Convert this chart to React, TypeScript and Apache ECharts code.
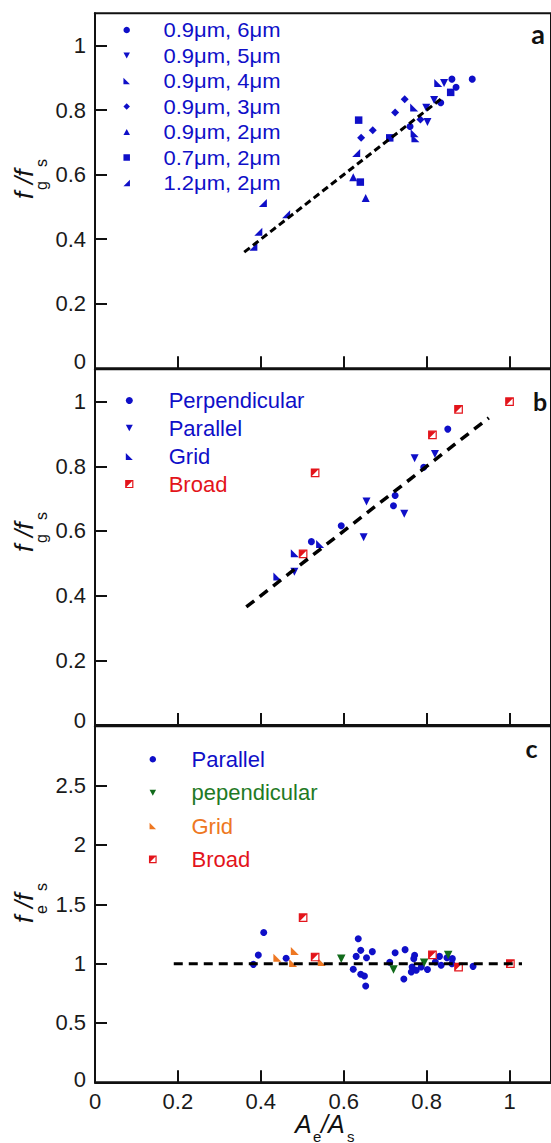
import React, { useEffect, useRef } from 'react';
import * as echarts from 'echarts';

// ---------- DATA ----------
// Panel a: f_g/f_s vs A_e/A_s
const a_09_6: number[][] = [[0.861, 0.896], [0.910, 0.896], [0.871, 0.871], [0.834, 0.823], [0.760, 0.749]];
const a_09_5: number[][] = [[0.842, 0.884], [0.818, 0.831], [0.799, 0.807], [0.802, 0.763]];
const a_09_4: number[][] = [[0.828, 0.884], [0.770, 0.808], [0.771, 0.728], [0.773, 0.713]];
const a_09_3: number[][] = [[0.747, 0.834], [0.724, 0.793], [0.670, 0.738], [0.642, 0.714], [0.785, 0.771]];
const a_09_2: number[][] = [[0.653, 0.528], [0.623, 0.592]];
const a_07_2: number[][] = [[0.636, 0.769], [0.711, 0.714], [0.640, 0.577], [0.858, 0.855]];
const a_12_2: number[][] = [[0.405, 0.512], [0.394, 0.423], [0.461, 0.477], [0.382, 0.377], [0.630, 0.667]];
const fitA: number[][] = [[0.36, 0.36], [0.84, 0.84]];

// Panel b
const b_perp: number[][] = [[0.851, 0.915], [0.793, 0.797], [0.724, 0.710], [0.720, 0.678], [0.594, 0.616], [0.522, 0.567]];
const b_par: number[][] = [[0.771, 0.825], [0.820, 0.838], [0.655, 0.691], [0.746, 0.653], [0.648, 0.581], [0.481, 0.474]];
const b_grid: number[][] = [[0.543, 0.560], [0.482, 0.531], [0.440, 0.459]];
const b_broad: number[][] = [[0.877, 0.976], [1.0, 1.0], [0.814, 0.897], [0.531, 0.780], [0.502, 0.529]];
const fitB: number[][] = [[0.365, 0.365], [0.95, 0.95]];

// Panel c: f_e/f_s vs A_e/A_s
const c_par: number[][] = [
  [0.407, 1.263], [0.394, 1.072], [0.382, 0.994], [0.461, 1.045], [0.635, 1.210], [0.641, 1.112],
  [0.669, 1.101], [0.630, 1.061], [0.655, 1.050], [0.623, 0.952], [0.641, 0.910], [0.650, 0.896],
  [0.653, 0.812], [0.724, 1.092], [0.748, 1.118], [0.711, 1.011], [0.745, 0.871], [0.771, 1.070],
  [0.769, 1.042], [0.765, 0.971], [0.763, 0.929], [0.775, 0.944], [0.787, 0.971], [0.802, 0.950],
  [0.821, 1.014], [0.831, 1.061], [0.835, 0.986], [0.849, 1.050], [0.862, 1.042], [0.861, 1.000],
  [0.912, 0.977]
];
const c_perp: number[][] = [[0.594, 1.042], [0.720, 0.950], [0.794, 1.008], [0.852, 1.072]];
const c_grid: number[][] = [[0.440, 1.050], [0.482, 1.106], [0.478, 1.005], [0.547, 1.013]];
const c_broad: number[][] = [[0.502, 1.387], [0.531, 1.056], [0.814, 1.073], [0.877, 0.971], [1.002, 1.0]];
const fitC: number[][] = [[0.19, 1], [1.03, 1]];

const legendA = ['0.9\u03bcm, 6\u03bcm', '0.9\u03bcm, 5\u03bcm', '0.9\u03bcm, 4\u03bcm', '0.9\u03bcm, 3\u03bcm', '0.9\u03bcm, 2\u03bcm', '0.7\u03bcm, 2\u03bcm', '1.2\u03bcm, 2\u03bcm'];
const legendB = ['Perpendicular', 'Parallel', 'Grid', 'Broad'];
const legendC = ['Parallel', 'pependicular', 'Grid', 'Broad'];

// ---------- STYLE ----------
const FONT = '"Liberation Sans", Arial, sans-serif';
const BLUE = '#0f0fc8';
const RED = '#e3141b';
const GREEN = '#116b1b';
const GREEN_T = '#1f7a25';
const ORANGE = '#ee7722';
const AXIS = '#111';

const SYM_DOWN = 'path://M0,0L10,0L5,9Z';
const SYM_UP = 'path://M5,0L10,9L0,9Z';
const SYM_LL = 'path://M0,0L0,10L10,10Z';
const SYM_LR = 'path://M10,0L10,10L0,10Z';
const SYM_BTRI = 'path://M0,0L10,0L0,10Z';

const PANELS = [
  { top: 13.3, height: 355, max: 1.1, interval: 0.2, zeroPad: 14 },
  { top: 369.3, height: 355.7, max: 1.1, interval: 0.2, zeroPad: 9 },
  { top: 726.3, height: 356, max: 3, interval: 0.5, zeroPad: 6 },
];

function sc(data: number[][], idx: number, symbol: string, color: string, size: number, extra: any = {}) {
  return {
    type: 'scatter', xAxisIndex: idx, yAxisIndex: idx, data, symbol, symbolSize: size,
    itemStyle: { color, opacity: 1 }, z: 3, silent: true, ...extra,
  };
}
function broad(data: number[][], idx: number, size: number) {
  return [
    sc(data, idx, 'rect', '#fff', size, { itemStyle: { color: '#fff', borderColor: RED, borderWidth: 1.2, opacity: 1 } }),
    sc(data, idx, SYM_BTRI, RED, size),
  ];
}
function fit(data: number[][], idx: number, dash: number[], width: number) {
  return {
    type: 'line', xAxisIndex: idx, yAxisIndex: idx, data, symbol: 'none', silent: true, z: 4,
    lineStyle: { color: '#000', width, type: dash },
  };
}

function mk(kind: string, x: number, y: number, s: number, color: string): any[] {
  const h = s / 2;
  const fill = { fill: color };
  switch (kind) {
    case 'circle': return [{ type: 'circle', shape: { cx: x, cy: y, r: h }, style: fill }];
    case 'down': return [{ type: 'polygon', shape: { points: [[x - h, y - h * 0.9], [x + h, y - h * 0.9], [x, y + h * 0.9]] }, style: fill }];
    case 'up': return [{ type: 'polygon', shape: { points: [[x, y - h * 0.9], [x + h, y + h * 0.9], [x - h, y + h * 0.9]] }, style: fill }];
    case 'll': return [{ type: 'polygon', shape: { points: [[x - h, y - h], [x - h, y + h], [x + h, y + h]] }, style: fill }];
    case 'lr': return [{ type: 'polygon', shape: { points: [[x + h, y - h], [x + h, y + h], [x - h, y + h]] }, style: fill }];
    case 'diamond': return [{ type: 'polygon', shape: { points: [[x, y - h], [x + h, y], [x, y + h], [x - h, y]] }, style: fill }];
    case 'square': return [{ type: 'rect', shape: { x: x - h, y: y - h, width: s, height: s }, style: fill }];
    case 'broad': return [
      { type: 'rect', shape: { x: x - h, y: y - h, width: s, height: s }, style: { fill: '#fff', stroke: RED, lineWidth: 1.2 } },
      { type: 'polygon', shape: { points: [[x - h, y - h], [x + h, y - h], [x - h, y + h]] }, style: { fill: RED } },
    ];
  }
  return [];
}

function txt(text: string, x: number, y: number, size: number, color: string, opts: any = {}) {
  const align = opts.align || 'left';
  const va = opts.va || 'middle';
  const style: any = {
    text, fill: color, fontSize: size, fontFamily: opts.family || FONT,
    fontStyle: opts.italic ? 'italic' : 'normal', fontWeight: opts.bold ? 'bold' : 'normal',
    align, textAlign: align, verticalAlign: va, textVerticalAlign: va,
  };
  if (opts.lineHeight) style.lineHeight = opts.lineHeight;
  return { type: 'text', x, y, scaleX: opts.scaleX || 1, scaleY: 1, silent: true, style };
}

// Rotated y-axis name: f_{sub1}/f_{sub2}
function yName(cx: number, cy: number, sub1: string, sub2: string) {
  return {
    type: 'group', x: cx, y: cy, rotation: Math.PI / 2, silent: true,
    children: [
      txt('f', -21, 0, 26, '#111', { italic: true }),
      txt(sub1, -12, 17, 16, '#111'),
      txt('/f', -6, 0, 26, '#111', { italic: true }),
      txt(sub2, 11, 17, 16, '#111'),
    ],
  };
}

export default function App() {
  const ref = useRef<HTMLDivElement>(null);
  useEffect(() => {
    const chart = echarts.init(ref.current!, null, { renderer: 'svg' });

    const grid = PANELS.map((p) => ({
      left: 95, width: 460.1, top: p.top, height: p.height,
      show: true, borderColor: AXIS, borderWidth: 2, backgroundColor: 'transparent',
    }));
    const xAxis = PANELS.map((p, i) => ({
      type: 'value', gridIndex: i, min: 0, max: 1.1, interval: 0.2,
      axisLine: { show: true, onZero: false, lineStyle: { color: AXIS, width: 2 } },
      axisTick: { show: true, inside: true, length: 12, lineStyle: { color: AXIS, width: 2 } },
      splitLine: { show: false },
      axisLabel: {
        show: i === 2, showMaxLabel: false, margin: 9, color: '#1a1a1a', fontSize: 22, fontFamily: FONT,
        lineHeight: 20,
        formatter: (v: number) => String(Number(v.toFixed(2))),
      },
    }));
    const yAxis = PANELS.map((p, i) => ({
      type: 'value', gridIndex: i, min: 0, max: p.max, interval: p.interval,
      axisLine: { show: true, onZero: false, lineStyle: { color: AXIS, width: 2 } },
      axisTick: { show: true, inside: true, length: 12, lineStyle: { color: AXIS, width: 2 } },
      splitLine: { show: false },
      axisLabel: {
        showMaxLabel: false, margin: 9, color: '#1a1a1a', fontSize: 22, fontFamily: FONT,
        formatter: (v: number) => (v === 0 ? '{z|0}' : String(Number(v.toFixed(2)))),
        rich: { z: { fontSize: 22, fontFamily: FONT, color: '#1a1a1a', padding: [0, 0, p.zeroPad, 0] } },
      },
    }));

    const series: any[] = [
      // panel a
      sc(a_09_6, 0, 'circle', BLUE, 7),
      sc(a_09_5, 0, SYM_DOWN, BLUE, 8),
      sc(a_09_4, 0, SYM_LL, BLUE, 8),
      sc(a_09_3, 0, 'diamond', BLUE, 8),
      sc(a_09_2, 0, SYM_UP, BLUE, 8),
      sc(a_07_2, 0, 'rect', BLUE, 7.5),
      sc(a_12_2, 0, SYM_LR, BLUE, 8),
      fit(fitA, 0, [7, 4], 3),
      // panel b
      sc(b_perp, 1, 'circle', BLUE, 7),
      sc(b_par, 1, SYM_DOWN, BLUE, 8),
      sc(b_grid, 1, SYM_LL, BLUE, 8),
      ...broad(b_broad, 1, 7.5),
      fit(fitB, 1, [10, 7], 3.5),
      // panel c
      sc(c_par, 2, 'circle', BLUE, 7),
      sc(c_perp, 2, SYM_DOWN, GREEN, 8.5),
      sc(c_grid, 2, SYM_LL, ORANGE, 8),
      ...broad(c_broad, 2, 7.5),
      fit(fitC, 2, [9, 6], 3),
    ];

    const g: any[] = [];
    // legend a
    const kindsA = ['circle', 'down', 'll', 'diamond', 'up', 'square', 'lr'];
    const rowsA = [30, 55.5, 81, 106.5, 132, 157.5, 183];
    legendA.forEach((t, i) => {
      g.push(...mk(kindsA[i], 126.7, rowsA[i], 6.5, BLUE));
      g.push(txt(t, 163.5, rowsA[i], 20, BLUE, { scaleX: 1.1 }));
    });
    // legend b
    const kindsB = ['circle', 'down', 'll', 'broad'];
    const colB = [BLUE, BLUE, BLUE, RED];
    const rowsB = [400.5, 428, 456.5, 484];
    legendB.forEach((t, i) => {
      g.push(...mk(kindsB[i], 129.3, rowsB[i], 7, colB[i]));
      g.push(txt(t, 168.7, rowsB[i], 22, colB[i]));
    });
    // legend c
    const kindsC = ['circle', 'down', 'll', 'broad'];
    const mcolC = [BLUE, GREEN, ORANGE, RED];
    const tcolC = [BLUE, GREEN_T, ORANGE, RED];
    const rowsC = [759.3, 792.7, 826, 859.3];
    legendC.forEach((t, i) => {
      g.push(...mk(kindsC[i], 152.8, rowsC[i], 6.5, mcolC[i]));
      g.push(txt(t, 191.5, rowsC[i], 22, tcolC[i]));
    });
    // panel letters
    g.push(txt('a', 538, 33, 27, '#111', { bold: true, align: 'center', family: 'Lato, "Liberation Sans", sans-serif' }));
    g.push(txt('b', 540, 401, 25, '#111', { bold: true, align: 'center', family: 'Lato, "Liberation Sans", sans-serif' }));
    g.push(txt('c', 531.5, 748, 25, '#111', { bold: true, align: 'center', family: 'Lato, "Liberation Sans", sans-serif' }));
    // y axis names
    g.push(yName(24, 178, 'g', 's'));
    g.push(yName(24, 531, 'g', 's'));
    g.push(yName(24, 902, 'e', 's'));
    // x axis name
    g.push(txt('A', 295, 1124, 25, '#111', { italic: true, lineHeight: 18 }));
    g.push(txt('e', 313, 1136, 15, '#111', { lineHeight: 12 }));
    g.push(txt('/A', 321, 1124, 25, '#111', { italic: true, lineHeight: 18 }));
    g.push(txt('s', 347, 1136, 15, '#111', { lineHeight: 12 }));

    chart.setOption({
      animation: false,
      backgroundColor: '#fff',
      grid, xAxis, yAxis, series,
      graphic: { elements: g },
    });
    return () => chart.dispose();
  }, []);
  return <div ref={ref} style={{ position: 'absolute', left: 0, top: 0, width: 551, height: 1143 }} />;
}
